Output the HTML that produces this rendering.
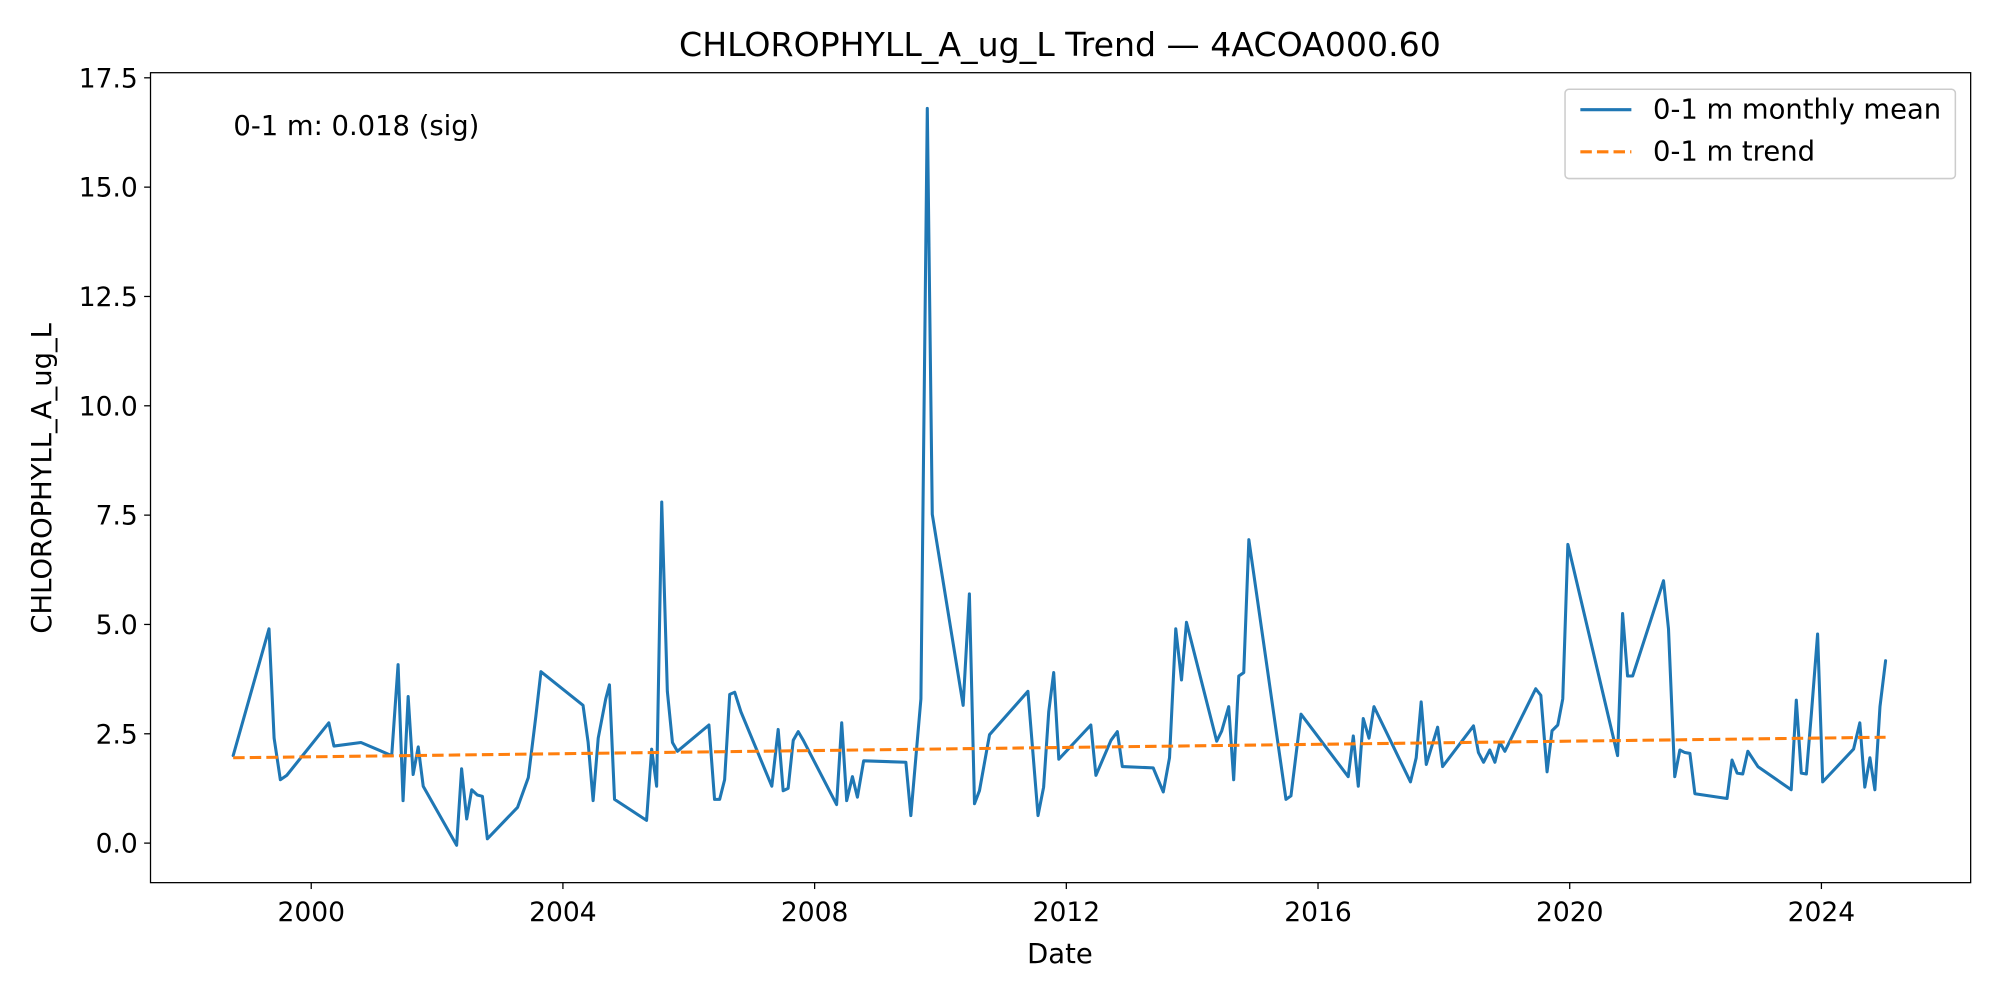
<!DOCTYPE html>
<html><head><meta charset="utf-8"><style>
html,body{margin:0;padding:0;background:#fff;overflow:hidden;}
svg text{font-family:"DejaVu Sans","Liberation Sans",sans-serif;fill:#000;}
</style></head><body>
<svg id="chart" width="2000" height="1000" viewBox="0 0 1568 784" preserveAspectRatio="none" xmlns="http://www.w3.org/2000/svg" style="display:block">
<rect width="1568" height="784" fill="#fff"/>
<text x="831" y="44" font-size="26" text-anchor="middle">CHLOROPHYLL_A_ug_L Trend — 4ACOA000.60</text>
<g id="plot"></g>
<text x="831" y="755" font-size="21.5" text-anchor="middle">Date</text>
<text transform="translate(40,375) rotate(-90)" font-size="21.5" text-anchor="middle">CHLOROPHYLL_A_ug_L</text>
<text x="183" y="106" font-size="21.5">0-1 m: 0.018 (sig)</text>
<g>
<rect x="1227" y="70" width="306" height="70" rx="3" fill="#fff" stroke="#ccc" stroke-width="1.2"/>
<line x1="1239" y1="86" x2="1279" y2="86" stroke="#1f77b4" stroke-width="2.5"/>
<text x="1296" y="93" font-size="21.5">0-1 m monthly mean</text>
<line x1="1239" y1="119" x2="1279" y2="119" stroke="#ff7f0e" stroke-width="2.5" stroke-dasharray="9,4"/>
<text x="1296" y="126" font-size="21.5">0-1 m trend</text>
</g>
</svg>
<script>
const dates=[1998.76,1999.33,1999.41,1999.51,1999.61,2000.28,2000.36,2000.79,2001.28,2001.38,2001.46,2001.54,2001.62,2001.70,2001.78,2002.31,2002.39,2002.47,2002.55,2002.64,2002.72,2002.80,2003.28,2003.45,2003.57,2003.65,2004.32,2004.40,2004.48,2004.56,2004.68,2004.74,2004.82,2005.33,2005.41,2005.49,2005.57,2005.66,2005.74,2005.82,2006.32,2006.41,2006.49,2006.57,2006.65,2006.73,2006.83,2007.32,2007.42,2007.50,2007.58,2007.66,2007.74,2007.82,2008.35,2008.43,2008.51,2008.60,2008.68,2008.78,2009.45,2009.53,2009.69,2009.79,2009.87,2010.36,2010.46,2010.54,2010.62,2010.78,2011.39,2011.55,2011.64,2011.72,2011.80,2011.88,2012.39,2012.47,2012.71,2012.81,2012.89,2013.38,2013.54,2013.64,2013.74,2013.83,2013.91,2014.39,2014.47,2014.58,2014.66,2014.74,2014.82,2014.90,2015.49,2015.57,2015.73,2016.48,2016.56,2016.64,2016.72,2016.81,2016.89,2017.47,2017.56,2017.64,2017.72,2017.90,2017.98,2018.47,2018.55,2018.63,2018.73,2018.81,2018.89,2018.97,2019.46,2019.54,2019.64,2019.72,2019.81,2019.89,2019.97,2020.76,2020.84,2020.92,2021.00,2021.49,2021.57,2021.67,2021.75,2021.83,2021.91,2021.99,2022.50,2022.58,2022.66,2022.75,2022.83,2022.99,2023.52,2023.60,2023.68,2023.76,2023.84,2023.94,2024.02,2024.51,2024.61,2024.69,2024.77,2024.85,2024.93,2025.02];
const values=[2.0,4.9,2.4,1.45,1.55,2.75,2.22,2.3,2.0,4.08,0.97,3.35,1.57,2.2,1.3,-0.05,1.7,0.55,1.22,1.1,1.07,0.1,0.82,1.5,2.9,3.92,3.15,2.3,0.97,2.4,3.3,3.62,1.0,0.52,2.15,1.3,7.8,3.47,2.3,2.1,2.7,1.0,1.0,1.45,3.4,3.45,3.0,1.3,2.6,1.2,1.25,2.35,2.55,2.35,0.88,2.75,0.97,1.52,1.05,1.88,1.85,0.63,3.3,16.8,7.52,3.15,5.7,0.9,1.2,2.48,3.47,0.63,1.28,3.0,3.9,1.92,2.7,1.55,2.35,2.55,1.75,1.72,1.17,1.95,4.9,3.73,5.05,2.33,2.56,3.12,1.45,3.82,3.9,6.94,1.0,1.08,2.95,1.52,2.45,1.3,2.85,2.4,3.12,1.4,1.95,3.23,1.8,2.65,1.75,2.68,2.07,1.85,2.13,1.85,2.3,2.1,3.53,3.38,1.63,2.57,2.7,3.3,6.83,2.0,5.25,3.82,3.82,6.0,4.9,1.52,2.13,2.07,2.05,1.13,1.02,1.9,1.6,1.58,2.1,1.75,1.22,3.27,1.6,1.58,2.95,4.78,1.4,2.15,2.75,1.28,1.95,1.22,3.12,4.17];
const trendDates=[1998.76,2025.02];
const trendValues=[1.95,2.42];
const xTickLabels=[2000,2004,2008,2012,2016,2020,2024];
const yTickLabels=[0.0,2.5,5.0,7.5,10.0,12.5,15.0,17.5];

const L=118,R=1545,T=57,B=692;
const xs=d=>244+(d-2000)*49.333;
const ys=v=>661-v*34.2857;
const NS='http://www.w3.org/2000/svg';
const g=document.getElementById('plot');
function mk(tag,attrs,parent){const e=document.createElementNS(NS,tag);for(const k in attrs)e.setAttribute(k,attrs[k]);(parent||g).appendChild(e);return e;}

xTickLabels.forEach(t=>{
  const x=xs(t);
  const tk=mk('line',{x1:x,y1:B,x2:x,y2:B+5,stroke:'#000','stroke-width':1});
  
  
  const tx=mk('text',{x:x,y:B+30,'font-size':20.8,'text-anchor':'middle'});
  
  
  tx.textContent=t;
});
yTickLabels.forEach(t=>{
  const y=ys(t);
  const tk=mk('line',{x1:L-5,y1:y,x2:L,y2:y,stroke:'#000','stroke-width':1});
  
  
  const tx=mk('text',{x:L-10,y:y+7.5,'font-size':20.8,'text-anchor':'end'});
  
  
  tx.textContent=t.toFixed(1);
});

const line=mk('polyline',{points:dates.map((d,i)=>xs(d).toFixed(1)+','+ys(values[i]).toFixed(1)).join(' '),fill:'none',stroke:'#1f77b4','stroke-width':2.4,'stroke-linejoin':'round','stroke-linecap':'round'});



const tr=mk('polyline',{points:trendDates.map((d,i)=>xs(d).toFixed(1)+','+ys(trendValues[i]).toFixed(1)).join(' '),fill:'none',stroke:'#ff7f0e','stroke-width':2.4,'stroke-dasharray':'9,4'});



const frame=mk('rect',{x:L,y:T,width:R-L,height:B-T,fill:'none',stroke:'#000','stroke-width':1});


</script>
</body></html>
